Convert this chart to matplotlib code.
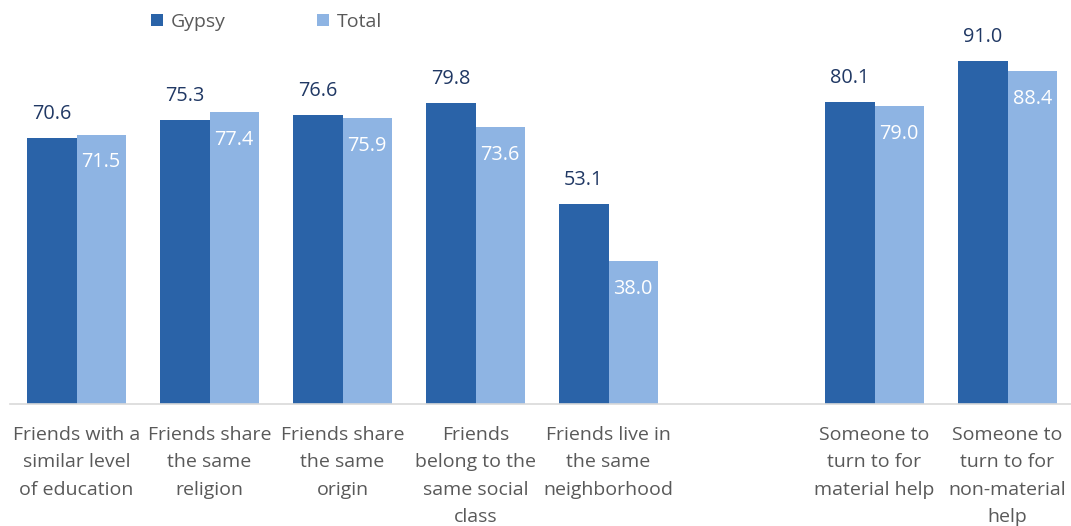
import numpy as np
import matplotlib.pyplot as plt

# Friendship / support indicators, Gypsy respondents vs total sample (%)
categories = [
    "Friends with a\nsimilar level\nof education",
    "Friends share\nthe same\nreligion",
    "Friends share\nthe same\norigin",
    "Friends\nbelong to the\nsame social\nclass",
    "Friends live in\nthe same\nneighborhood",
    "",
    "Someone to\nturn to for\nmaterial help",
    "Someone to\nturn to for\nnon-material\nhelp",
]
gypsy = [70.6, 75.3, 76.6, 79.8, 53.1, None, 80.1, 91.0]
total = [71.5, 77.4, 75.9, 73.6, 38.0, None, 79.0, 88.4]

dark = "#2A63A8"
light = "#8EB4E3"
label_dark = "#203864"
text_grey = "#595959"

plt.rcParams['font.family'] = ['Open Sans', 'DejaVu Sans']

fig = plt.figure(figsize=(10.71, 5.26), dpi=100)
ax = fig.add_axes([10 / 1071, 122 / 526, 1064 / 1071, 404 / 526])

x = np.arange(len(categories))
w = 0.372
for i, (g, t) in enumerate(zip(gypsy, total)):
    if g is None:
        continue
    ax.bar(x[i] - w / 2, g, w, color=dark, label="Gypsy" if i == 0 else None)
    ax.bar(x[i] + w / 2, t, w, color=light, label="Total" if i == 0 else None)
    ax.text(x[i] - w / 2, g + 6.4, f"{g:.1f}", ha='center', va='center',
            color=label_dark, fontsize=14.3)
    ax.text(x[i] + w / 2, t - 7.4, f"{t:.1f}", ha='center', va='center',
            color='white', fontsize=14.3)

ax.set_xlim(-0.5, 7.5)
ax.set_ylim(0, 107.2)
ax.set_yticks([])
ax.set_xticks(x)
ax.set_xticklabels(categories, color=text_grey, fontsize=14, linespacing=1.66)
ax.tick_params(axis='x', length=0, pad=16)
for side in ['top', 'right', 'left']:
    ax.spines[side].set_visible(False)
ax.spines['bottom'].set_color('#D9D9D9')
ax.spines['bottom'].set_linewidth(1.2)

leg = fig.legend(loc='upper left', bbox_to_anchor=(133 / 1071, 1.009), ncol=2,
                 frameon=False, fontsize=14, handlelength=0.62, handleheight=0.62,
                 handletextpad=0.4, columnspacing=4.7)
for t in leg.get_texts():
    t.set_color(text_grey)

fig.savefig("out.png", dpi=100)
